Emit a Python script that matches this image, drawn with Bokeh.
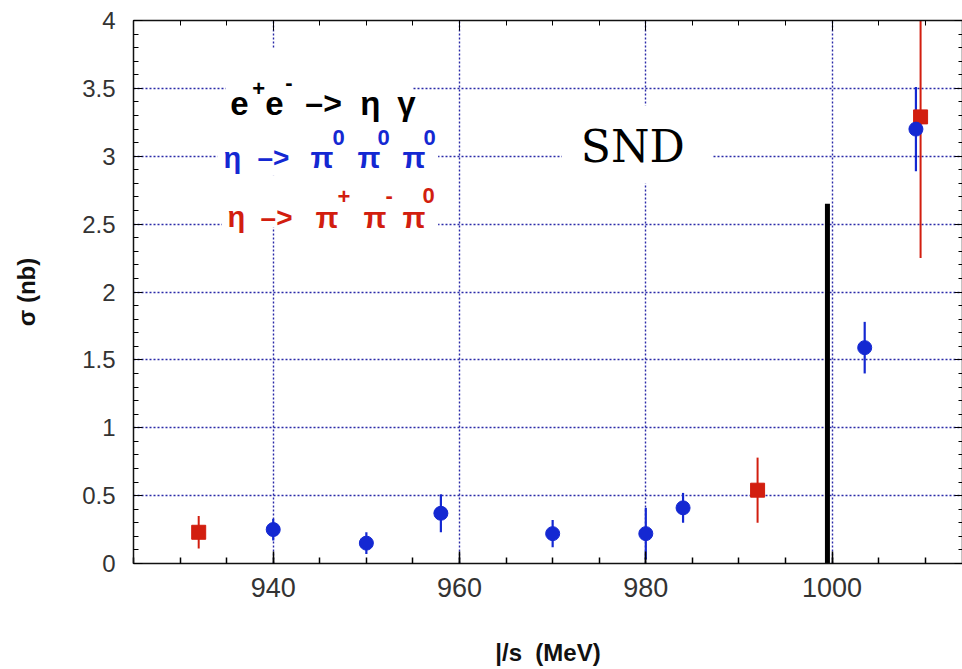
from bokeh.plotting import figure
from bokeh.models import (ColumnDataSource, SingleIntervalTicker, LinearAxis,
                          CustomJSTickFormatter, Label, BoxAnnotation,
                          CustomLabelingPolicy)
from bokeh.embed import file_html
from bokeh.resources import INLINE

# ---------------- data ----------------
# eta -> pi0 pi0 pi0 (blue circles)
blue_x = [940, 950, 958, 970, 980, 984, 1003.5, 1009]
blue_y = [0.25, 0.15, 0.37, 0.22, 0.22, 0.41, 1.59, 3.20]
blue_err = [0.08, 0.08, 0.14, 0.10, 0.19, 0.11, 0.19, 0.31]

# eta -> pi+ pi- pi0 (red squares)
red_x = [932, 992, 1009.5]
red_y = [0.23, 0.54, 3.29]
red_err = [0.12, 0.24, 1.04]

# vertical black marker line
threshold_x = [999.5]
threshold_top = [2.65]

x_major_ticks = [940, 960, 980, 1000]
y_tick_labels = ["0", "0.5", "1", "1.5", "2", "2.5", "3", "3.5", "4"]

BLUE = "#1428d2"
RED = "#d21e0f"
GRID = "#2a2aa8"

p = figure(width=962, height=669, x_range=(925, 1014), y_range=(0, 4),
           output_backend="svg", toolbar_location=None,
           min_border_left=133, min_border_right=0,
           min_border_top=20, min_border_bottom=106)
p.outline_line_color = None
p.background_fill_color = "white"
p.border_fill_color = "white"

xt = SingleIntervalTicker(interval=20, num_minor_ticks=4)
yt = SingleIntervalTicker(interval=0.5, num_minor_ticks=5)

# grids
p.xgrid.ticker = xt
p.ygrid.ticker = yt
for g in (p.xgrid, p.ygrid):
    g.grid_line_color = GRID
    g.grid_line_dash = "2 2"
    g.grid_line_width = 1.4

# bottom axis
xa = p.xaxis[0]
xa.ticker = xt
xa.axis_label = "|/s\u00a0\u00a0(MeV)"
xa.axis_label_text_font = "Liberation Sans"
xa.axis_label_text_font_style = "bold"
xa.axis_label_text_font_size = "24px"
xa.axis_label_text_color = "#111111"
xa.axis_label_standoff = 39
xa.major_label_text_font = "Liberation Sans"
xa.major_label_text_font_size = "27px"
xa.major_label_text_color = "#333333"
xa.major_label_standoff = 14
xa.axis_line_width = 1.5
xa.axis_line_color = "#111111"
xa.major_tick_in = 12
xa.major_tick_out = 0
xa.minor_tick_in = 6
xa.minor_tick_out = 0
xa.major_tick_line_width = 1.5
xa.minor_tick_line_width = 1.5

# left axis
ya = p.yaxis[0]
ya.ticker = yt
ya.formatter = CustomJSTickFormatter(code="return (Math.round(tick*10)/10).toString();")
ya.axis_label = "σ (nb)"
ya.axis_label_text_font = "Liberation Sans"
ya.axis_label_text_font_style = "bold"
ya.axis_label_text_font_size = "24px"
ya.axis_label_text_color = "#111111"
ya.axis_label_standoff = 39
ya.major_label_text_font = "Liberation Sans"
ya.major_label_text_font_size = "24px"
ya.major_label_text_color = "#333333"
ya.major_label_standoff = 18
ya.axis_line_width = 1.5
ya.axis_line_color = "#111111"
ya.major_tick_in = 9
ya.major_tick_out = 0
ya.minor_tick_in = 5
ya.minor_tick_out = 0

# policy that draws no tick labels (for the tick-only frame axes)
no_labels = CustomLabelingPolicy(code="""
try { for (const i of Array.from(indices.ones())) indices.unset(i) } catch (e) {}
return indices
""")

# top axis (ticks only)
ta = LinearAxis(ticker=xt, major_label_text_font_size="0px", major_label_standoff=0,
                major_label_policy=no_labels,
                major_tick_in=10, major_tick_out=0, minor_tick_in=5, minor_tick_out=0,
                axis_line_width=1.5, axis_line_color="#111111")
p.add_layout(ta, "above")

# right axis (ticks only)
ra = LinearAxis(ticker=yt, major_label_text_font_size="0px", major_label_standoff=0,
                major_label_policy=no_labels,
                major_tick_in=8, major_tick_out=0, minor_tick_in=4, minor_tick_out=0,
                axis_line_width=1.5, axis_line_color="#111111")
p.add_layout(ra, "right")

# white boxes behind legend texts and the SND tag (cover grid)
white_boxes = [
    (934.9, 955.0, 3.794, 3.263),
    (934.0, 957.7, 3.263, 2.858),
    (934.5, 957.7, 2.858, 2.475),
    (971.0, 987.2, 3.374, 2.799),
]
for l, r, t, b in white_boxes:
    p.add_layout(BoxAnnotation(left=l, right=r, top=t, bottom=b, fill_color="white",
                               fill_alpha=1.0, line_color=None, level="underlay"))

# data sources
bsrc = ColumnDataSource(dict(x=blue_x, y=blue_y,
                             lo=[v - e for v, e in zip(blue_y, blue_err)],
                             hi=[v + e for v, e in zip(blue_y, blue_err)]))
rsrc = ColumnDataSource(dict(x=red_x, y=red_y,
                             lo=[v - e for v, e in zip(red_y, red_err)],
                             hi=[v + e for v, e in zip(red_y, red_err)]))

p.segment(x0=threshold_x, y0=[0] * len(threshold_x), x1=threshold_x, y1=threshold_top,
          line_color="black", line_width=5)

p.segment(x0="x", y0="lo", x1="x", y1="hi", source=rsrc, line_color=RED, line_width=2)
p.segment(x0="x", y0="lo", x1="x", y1="hi", source=bsrc, line_color=BLUE, line_width=2.2)
p.scatter(x="x", y="y", source=rsrc, marker="square", size=14,
          fill_color=RED, line_color=RED)
p.scatter(x="x", y="y", source=bsrc, marker="circle", size=14,
          fill_color=BLUE, line_color=BLUE)

# legend-like text (pieces: text, x offset px, raise px, font size)
legend_lines = [
    (935.4, 3.39, "black", [("e", 0, 0, 33), ("+", 22, 15, 22), ("e", 35, 0, 33),
                            ("-", 55, 21, 22), ("–>", 75, 0, 32), ("η", 130, 0, 33),
                            ("γ", 167, 0, 33)]),
    (934.65, 2.99, BLUE, [("η", 0, 0, 29), ("–>", 34, 0, 28), ("π", 87, 0, 30),
                          ("0", 109, 20, 22), ("π", 134, 0, 30), ("0", 154, 20, 22),
                          ("π", 179, 0, 30), ("0", 200, 20, 22)]),
    (935.1, 2.55, RED, [("η", 0, 0, 29), ("–>", 33, 0, 28), ("π", 88, 0, 30),
                        ("+", 110, 21, 22), ("π", 136, 0, 30), ("-", 158, 22, 22),
                        ("π", 175, 0, 30), ("0", 195, 22, 22)]),
]
for ax, ay, col, pieces in legend_lines:
    for txt, dx, up, fs in pieces:
        p.add_layout(Label(x=ax, y=ay, x_offset=dx, y_offset=up, text=txt,
                           text_font="Liberation Sans", text_font_style="bold",
                           text_font_size=f"{fs}px", text_color=col,
                           text_align="left", text_baseline="alphabetic"))

p.add_layout(Label(x=978.6, y=3.07, text="SND", text_font="DejaVu Serif",
                   text_font_size="44px", text_color="black",
                   text_align="center", text_baseline="middle"))

open("out.html", "w").write(file_html(p, INLINE))
